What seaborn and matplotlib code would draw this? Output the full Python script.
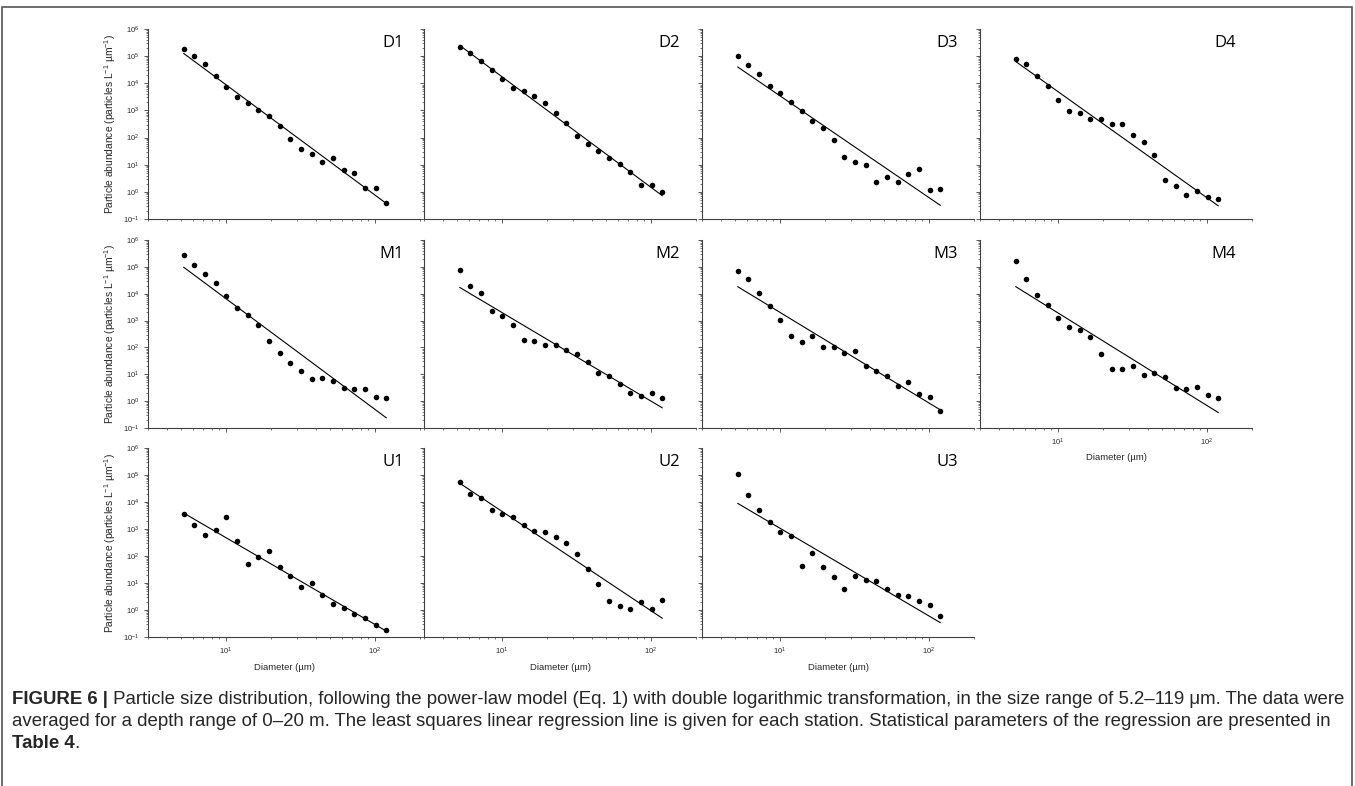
import numpy as np
import pandas as pd
import matplotlib
matplotlib.use("Agg")
import matplotlib.pyplot as plt
import seaborn as sns
from matplotlib.ticker import LogLocator, NullFormatter
from matplotlib.patches import Rectangle

# ---------------- data ----------------
diameter = [5.20, 6.13, 7.23, 8.52, 10.05, 11.85, 13.97, 16.47, 19.42, 22.90,
            27.00, 31.84, 37.54, 44.26, 52.19, 61.54, 72.56, 85.56, 100.9, 119.0]

D1 = [1.9e5, 9.8e4, 5.1e4, 1.9e4, 7.3e3, 3.2e3, 1.8e3, 1.03e3, 600, 258,
      88, 39, 25.5, 12.6, 17.7, 6.6, 4.9, 1.35, 1.35, 0.38]
D2 = [2.1e5, 1.26e5, 6.8e4, 3.2e4, 1.5e4, 6.9e3, 5.0e3, 3.4e3, 1.9e3, 830,
      335, 117, 56, 33, 17.7, 10.6, 5.3, 1.78, 1.8, 0.95]
D3 = [9.8e4, 4.6e4, 2.2e4, 8.1e3, 4.4e3, 2.1e3, 925, 397, 219, 81,
      19.1, 12.9, 10.0, 2.35, 3.5, 2.4, 4.7, 6.9, 1.2, 1.23]
D4 = [8.1e4, 5.3e4, 1.9e4, 8.2e3, 2.5e3, 980, 800, 480, 495, 316,
      316, 121, 66, 22.8, 2.65, 1.69, 0.74, 1.1, 0.66, 0.56]
M1 = [2.8e5, 1.15e5, 5.3e4, 2.45e4, 8.3e3, 2.96e3, 1.55e3, 660, 177, 62,
      25.4, 13.5, 6.8, 7.0, 5.6, 3.1, 2.77, 2.9, 1.38, 1.26]
M2 = [7.7e4, 1.94e4, 1.07e4, 2.2e3, 1.45e3, 690, 192, 181, 118, 121,
      77, 55, 29, 11, 8.3, 4.5, 2.0, 1.55, 2.0, 1.33]
M3 = [7.2e4, 3.6e4, 1.04e4, 3.4e3, 1.03e3, 262, 166, 262, 100, 106,
      61, 73, 20, 12.8, 8.8, 3.7, 5.1, 1.78, 1.41, 0.44]
M4 = [1.7e5, 3.6e4, 9.3e3, 3.8e3, 1.29e3, 565, 465, 241, 56, 15.6,
      15.1, 19.5, 9.8, 10.7, 8.1, 2.97, 2.9, 3.43, 1.63, 1.3]
U1 = [3.46e3, 1.36e3, 610, 930, 2.76e3, 356, 52, 93, 156, 40,
      17.9, 7.2, 9.8, 3.6, 1.67, 1.15, 0.71, 0.49, 0.29, 0.18]
U2 = [5.6e4, 1.96e4, 1.43e4, 4.9e3, 3.5e3, 2.9e3, 1.38e3, 850, 805, 510,
      307, 120, 32.5, 9.3, 2.24, 1.46, 1.12, 2.05, 1.12, 2.37]
U3 = [1.05e5, 1.87e4, 5.2e3, 1.85e3, 748, 560, 41, 131, 40, 16.9,
      6.1, 18.3, 13.1, 12.1, 6.1, 3.55, 3.25, 2.07, 1.56, 0.58]

stations = ["D1", "D2", "D3", "D4", "M1", "M2", "M3", "M4", "U1", "U2", "U3"]
series = [D1, D2, D3, D4, M1, M2, M3, M4, U1, U2, U3]

ylabel_text = "Particle abundance (particles L$^{-1}$ µm$^{-1}$)"
xlabel_text = "Diameter (µm)"
caption_bold = "FIGURE 6 |"
caption_line1 = (" Particle size distribution, following the power-law model (Eq. 1) with double "
                 "logarithmic transformation, in the size range of 5.2–119 μm. The data were")
caption_line2 = ("averaged for a depth range of 0–20 m. The least squares linear regression line "
                 "is given for each station. Statistical parameters of the regression are presented in")
caption_line3_bold = "Table 4"
caption_line3 = "."

# ---------------- style ----------------
sns.set_style("ticks")
plt.rcParams["font.family"] = ["Liberation Sans", "DejaVu Sans"]
plt.rcParams["mathtext.fontset"] = "custom"
plt.rcParams["mathtext.rm"] = "Liberation Sans"
plt.rcParams["mathtext.it"] = "Liberation Sans:italic"
plt.rcParams["mathtext.bf"] = "Liberation Sans:bold"

W, H = 1355, 786
fig = plt.figure(figsize=(W / 100, H / 100), dpi=100)

lefts = [148, 424, 702, 980]
aw = 272
tops = [29, 240, 448]
heights = [190, 188, 189]
spine_col = "#404040"

for i, (name, vals) in enumerate(zip(stations, series)):
    r, c = divmod(i, 4)
    left, top, h = lefts[c], tops[r], heights[r]
    ax = fig.add_axes([left / W, 1 - (top + h) / H, aw / W, h / H])
    df = pd.DataFrame({"diameter": diameter, "abundance": vals})
    slope, inter = np.polyfit(np.log10(df["diameter"]), np.log10(df["abundance"]), 1)
    df["fit"] = 10 ** (inter + slope * np.log10(df["diameter"]))

    sns.lineplot(data=df, x="diameter", y="fit", ax=ax, color="black", lw=0.8)
    sns.scatterplot(data=df, x="diameter", y="abundance", ax=ax, color="black",
                    s=16, linewidth=0, zorder=3)

    ax.set_xscale("log")
    ax.set_yscale("log")
    ax.set_xlim(3, 200)
    ax.set_ylim(0.1, 1e6)
    ax.xaxis.set_major_locator(LogLocator(base=10, numticks=10))
    ax.xaxis.set_minor_locator(LogLocator(base=10, subs=np.arange(2, 10), numticks=100))
    ax.yaxis.set_major_locator(LogLocator(base=10, numticks=20))
    ax.yaxis.set_minor_locator(LogLocator(base=10, subs=np.arange(2, 10), numticks=100))
    ax.xaxis.set_minor_formatter(NullFormatter())
    ax.yaxis.set_minor_formatter(NullFormatter())

    sns.despine(ax=ax)
    for sp in ("left", "bottom"):
        ax.spines[sp].set_color(spine_col)
        ax.spines[sp].set_linewidth(0.8)
    ax.tick_params(which="major", length=3, width=0.6, color=spine_col,
                   labelsize=5.5, pad=3, direction="out")
    ax.tick_params(which="minor", length=1.5, width=0.5, color=spine_col, direction="out")

    ax.set_xlabel("")
    ax.set_ylabel("")
    if c == 0:
        ax.set_ylabel(ylabel_text, fontsize=7.4)
        ax.yaxis.set_label_coords(-0.112, 0.5)
    else:
        ax.tick_params(axis="y", which="both", labelleft=False)

    bottom_panel = (r == 2) or (name == "M4")
    if bottom_panel:
        ax.set_xlabel(xlabel_text, fontsize=6.8)
        ax.xaxis.set_label_coords(0.5, -0.135)
    else:
        ax.tick_params(axis="x", which="both", labelbottom=False)

    ax.text(0.94, 0.925, name, transform=ax.transAxes, ha="right", va="center",
            fontsize=12, family=["Open Sans", "DejaVu Sans"], color="black")

# ---------------- caption & frame ----------------
fig.add_artist(Rectangle((2 / W, -0.02), 1350 / W, 1 - 7 / H + 0.02,
                         transform=fig.transFigure, fill=False,
                         edgecolor="#555555", lw=1.2))

cap_fs = 13.4
x0 = 12 / W
renderer = fig.canvas.get_renderer()
tb = fig.text(x0, 1 - 700 / H, caption_bold, fontsize=cap_fs, weight="bold", va="center")
bb = tb.get_window_extent(renderer=renderer)
fig.text(bb.x1 / W, 1 - 700 / H, caption_line1, fontsize=cap_fs, va="center")
fig.text(x0, 1 - 722 / H, caption_line2, fontsize=cap_fs, va="center")
tb3 = fig.text(x0, 1 - 743 / H, caption_line3_bold, fontsize=cap_fs, weight="bold", va="center")
bb3 = tb3.get_window_extent(renderer=renderer)
fig.text(bb3.x1 / W, 1 - 743 / H, caption_line3, fontsize=cap_fs, va="center")

fig.savefig("out.png", dpi=100)
